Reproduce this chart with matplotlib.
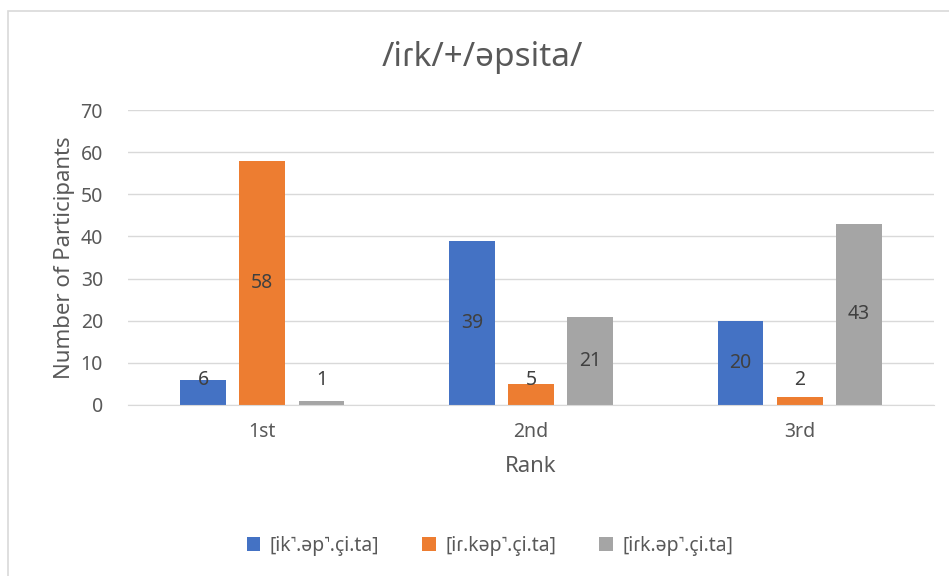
import matplotlib
matplotlib.use("Agg")
import matplotlib.pyplot as plt
from matplotlib.patches import Rectangle
import numpy as np

plt.rcParams["font.family"] = ["Noto Sans", "DejaVu Sans"]

ranks = ["1st", "2nd", "3rd"]
variants = ["[ik˺.əp˺.çi.ta]", "[iɾ.kəp˺.çi.ta]", "[iɾk.əp˺.çi.ta]"]
counts_ik = [6, 39, 20]
counts_ir = [58, 5, 2]
counts_irk = [1, 21, 43]
colors = ["#4472C4", "#ED7D31", "#A5A5A5"]

TXT = "#595959"
W, H = 949, 576
fig = plt.figure(figsize=(W / 100, H / 100), dpi=100)
fig.patches.append(Rectangle((8 / W, -0.01), 1.0, 1 - 11 / H + 0.01,
                             transform=fig.transFigure, fill=False,
                             edgecolor="#d9d9d9", lw=1.2))

ax = fig.add_axes([128 / W, 1 - 405 / H, 806 / W, 295 / H])
x = np.arange(len(ranks))
bw = 0.17
step = 0.22
series = [counts_ik, counts_ir, counts_irk]
for i, (vals, lab, c) in enumerate(zip(series, variants, colors)):
    xs = x + (i - 1) * step
    ax.bar(xs, vals, bw, color=c, label=lab, zorder=2)
    for xi, v in zip(xs, vals):
        ax.text(xi, max(v / 2, 6), str(v), ha="center", va="center",
                fontsize=14, color="#404040", zorder=3)

ax.set_xlim(-0.5, 2.5)
ax.set_ylim(0, 70)
ax.set_yticks(range(0, 71, 10))
ax.set_xticks(x)
ax.set_xticklabels(ranks)
ax.grid(axis="y", color="#d9d9d9", lw=1, zorder=0)
for s in ["top", "right", "left"]:
    ax.spines[s].set_visible(False)
ax.spines["bottom"].set_color("#d9d9d9")
ax.tick_params(length=0, colors=TXT, labelsize=14)
ax.tick_params(axis="y", pad=18)
ax.tick_params(axis="x", pad=12)
ax.set_xlabel("Rank", fontsize=16, color=TXT, labelpad=10)
ax.set_ylabel("Number of Participants", fontsize=16, color=TXT, labelpad=4)

fig.text(482 / W, 1 - 57 / H, "/iɾk/+/əpsita/", ha="center", va="center",
         fontsize=24, color=TXT)
fig.legend(loc="center", bbox_to_anchor=(490 / W, 1 - 546 / H), ncol=3,
           frameon=False, fontsize=14, labelcolor=TXT, handlelength=0.7,
           handleheight=0.7, columnspacing=2.2, handletextpad=0.5)

fig.savefig("out.png", dpi=100)
